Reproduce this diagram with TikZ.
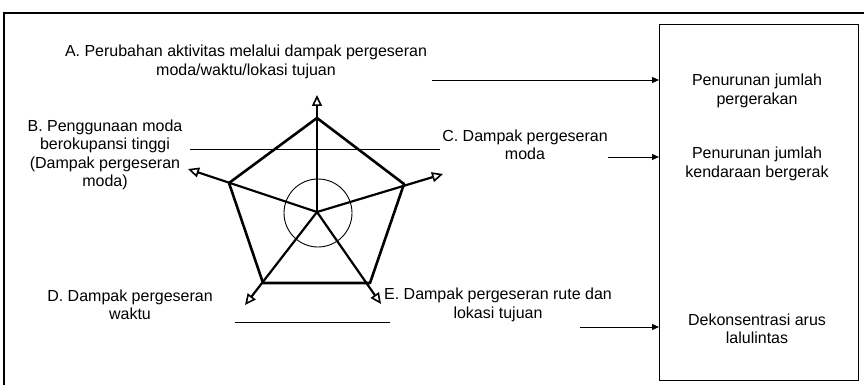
\documentclass[tikz,border=0pt]{standalone}
\usepackage{fontspec}
\setmainfont{Liberation Sans}
\usetikzlibrary{arrows.meta}
\begin{document}
\begin{tikzpicture}[x=1pt,y=-1pt,
 lbl/.style={align=center,font=\fontsize{16}{18.5}\selectfont,inner sep=0pt},
 edge/.style={line width=2.6pt,line join=round},
 spoke/.style={line width=2.2pt,-{Triangle[open,length=11pt,width=10pt,line width=1.6pt]}},
 flow/.style={line width=0.9pt,-{Triangle[length=7pt,width=6pt]}},
 rule/.style={line width=0.9pt}]
\useasboundingbox (0,0) rectangle (864,385);
% outer frame
\draw[line width=1.5pt] (4,385) -- (4,13) -- (864,13);
% result box
\node[draw,line width=1pt,minimum width=199pt,minimum height=355pt,inner sep=0pt] (box) at (759,202.5) {};
\node[lbl] (r1) at (757,91) {Penurunan jumlah\\pergerakan};
\node[lbl] (r2) at (757,164) {Penurunan jumlah\\kendaraan bergerak};
\node[lbl] (r3) at (757,329) {Dekonsentrasi arus\\lalulintas};
% labels
\node[lbl] (A) at (246,62) {A. Perubahan aktivitas melalui dampak pergeseran\\moda/waktu/lokasi tujuan};
\node[lbl] (B) at (105,155) {B. Penggunaan moda\\berokupansi tinggi\\(Dampak pergeseran\\moda)};
\node[lbl] (C) at (525,145) {C. Dampak pergeseran\\moda};
\node[lbl] (D) at (130,305) {D. Dampak pergeseran\\waktu};
\node[lbl] (E) at (498,305) {E. Dampak pergeseran rute dan\\lokasi tujuan};
% pentagon
\coordinate (O) at (317,212);
\coordinate (T) at (317,118);
\coordinate (R) at (404,184);
\coordinate (BR) at (370,283);
\coordinate (BL) at (263,283);
\coordinate (L) at (229,183);
\coordinate (tT) at (317,95);
\coordinate (tR) at (443,174);
\coordinate (tBR) at (381,304);
\coordinate (tBL) at (245,305);
\coordinate (tL) at (188,169);
\node[circle,draw,line width=0.9pt,minimum size=68pt,inner sep=0pt] (ring) at (318,213) {};
\draw[edge] (T) -- (R) -- (BR) -- (BL) -- (L) -- cycle;
\draw[spoke] (O) -- (tT);
\draw[spoke] (O) -- (tR);
\draw[spoke] (O) -- (tBR);
\draw[spoke] (O) -- (tBL);
\draw[spoke] (O) -- (tL);
% horizontal rules
\coordinate (h1a) at (190,149);
\coordinate (h1b) at (440,149);
\draw[rule] (h1a) -- (h1b);
\coordinate (h2a) at (235,322);
\coordinate (h2b) at (390,322);
\draw[rule] (h2a) -- (h2b);
% flow arrows
\coordinate (fa) at (432,80);
\coordinate (fc) at (608,157);
\coordinate (fe) at (580,327);
\draw[flow] (fa) -- (fa -| box.west);
\draw[flow] (fc) -- (fc -| box.west);
\draw[flow] (fe) -- (fe -| box.west);
\end{tikzpicture}
\end{document}
